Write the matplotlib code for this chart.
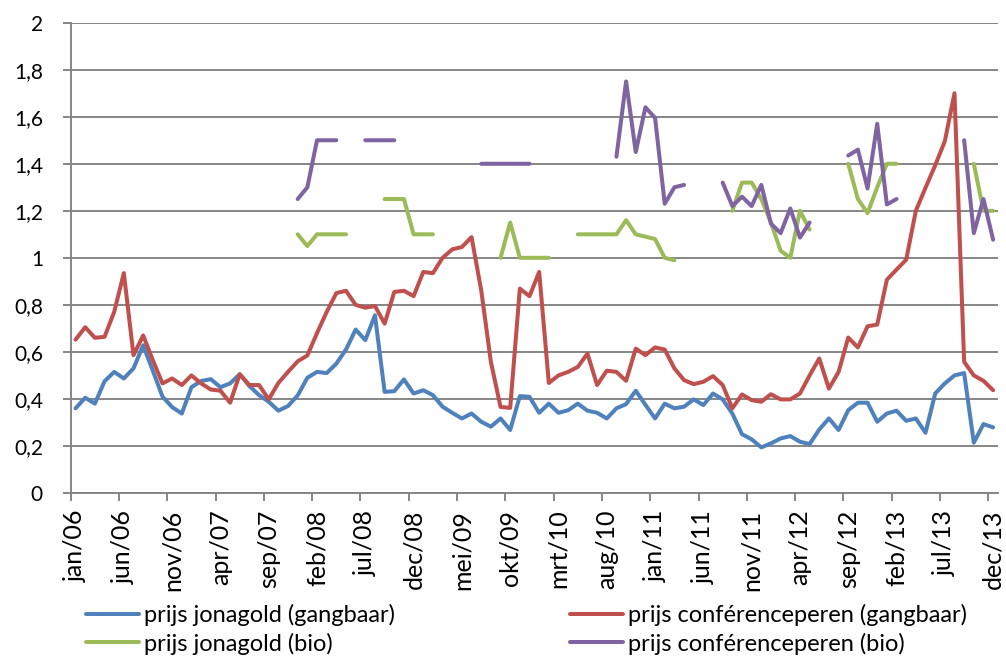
import numpy as np
import matplotlib
matplotlib.use('Agg')
import matplotlib.pyplot as plt

plt.rcParams['font.family'] = ['Lato', 'DejaVu Sans']

nan = np.nan

# monthly prices jan/06 .. dec/13
jonagold = [
    0.36, 0.405, 0.38, 0.475, 0.515, 0.487, 0.53, 0.628, 0.52, 0.41, 0.365, 0.338,
    0.45, 0.476, 0.484, 0.45, 0.466, 0.505, 0.455, 0.416, 0.388, 0.35, 0.37, 0.415,
    0.49, 0.515, 0.51, 0.55, 0.61, 0.695, 0.65, 0.756, 0.43, 0.433, 0.483, 0.423,
    0.437, 0.416, 0.367, 0.341, 0.317, 0.338, 0.303, 0.282, 0.317, 0.268, 0.412, 0.409,
    0.341, 0.38, 0.341, 0.352, 0.38, 0.35, 0.341, 0.317, 0.36, 0.378, 0.435, 0.375,
    0.317, 0.38, 0.36, 0.367, 0.398, 0.374, 0.423, 0.398, 0.338, 0.25, 0.228, 0.194,
    0.211, 0.232, 0.242, 0.218, 0.208, 0.27, 0.317, 0.268, 0.352, 0.384, 0.384, 0.303,
    0.338, 0.35, 0.307, 0.317, 0.256, 0.423, 0.466, 0.50, 0.51, 0.214, 0.293, 0.279,
]
conference = [
    0.652, 0.705, 0.66, 0.664, 0.77, 0.935, 0.586, 0.67, 0.565, 0.466, 0.487, 0.459,
    0.50, 0.466, 0.44, 0.435, 0.384, 0.505, 0.459, 0.459, 0.398, 0.468, 0.515, 0.56,
    0.585, 0.68, 0.77, 0.85, 0.86, 0.80, 0.788, 0.795, 0.72, 0.855, 0.86, 0.837,
    0.94, 0.935, 1.0, 1.036, 1.046, 1.088, 0.862, 0.558, 0.366, 0.362, 0.869, 0.837,
    0.94, 0.468, 0.50, 0.515, 0.536, 0.593, 0.459, 0.52, 0.515, 0.477, 0.614, 0.586,
    0.619, 0.61, 0.53, 0.48, 0.463, 0.473, 0.497, 0.459, 0.36, 0.419, 0.395, 0.388,
    0.42, 0.398, 0.398, 0.423, 0.50, 0.572, 0.444, 0.515, 0.661, 0.619, 0.709, 0.716,
    0.907, 0.95, 0.992, 1.20, 1.298, 1.393, 1.496, 1.70, 0.558, 0.50, 0.477, 0.437,
]
jonagold_bio = [
    nan, nan, nan, nan, nan, nan, nan, nan, nan, nan, nan, nan,
    nan, nan, nan, nan, nan, nan, nan, nan, nan, nan, nan, 1.10,
    1.05, 1.10, 1.10, 1.10, 1.10, nan, nan, nan, 1.25, 1.25, 1.25, 1.10,
    1.10, 1.10, nan, nan, nan, nan, nan, nan, 1.0, 1.15, 1.0, 1.0,
    1.0, 1.0, nan, nan, 1.10, 1.10, 1.10, 1.10, 1.10, 1.16, 1.10, 1.09,
    1.08, 1.0, 0.99, nan, nan, nan, nan, nan, 1.20, 1.32, 1.32, 1.25,
    1.15, 1.03, 1.0, 1.20, 1.12, nan, nan, nan, 1.40, 1.25, 1.19, 1.30,
    1.40, 1.40, nan, nan, nan, nan, nan, nan, nan, 1.40, 1.20, 1.20,
]
conference_bio = [
    nan, nan, nan, nan, nan, nan, nan, nan, nan, nan, nan, nan,
    nan, nan, nan, nan, nan, nan, nan, nan, nan, nan, nan, 1.25,
    1.30, 1.50, 1.50, 1.50, nan, nan, 1.50, 1.50, 1.50, 1.50, nan, nan,
    nan, nan, nan, nan, nan, nan, 1.40, 1.40, 1.40, 1.40, 1.40, 1.40,
    nan, nan, nan, nan, nan, nan, nan, nan, 1.43, 1.75, 1.45, 1.64,
    1.595, 1.23, 1.30, 1.31, nan, nan, nan, 1.32, 1.22, 1.26, 1.22, 1.31,
    1.145, 1.105, 1.21, 1.086, 1.15, nan, nan, nan, 1.435, 1.46, 1.295, 1.57,
    1.227, 1.25, nan, nan, nan, nan, nan, nan, 1.50, 1.105, 1.25, 1.077,
]

month_labels = ['jan/06', 'jun/06', 'nov/06', 'apr/07', 'sep/07', 'feb/08', 'jul/08',
                'dec/08', 'mei/09', 'okt/09', 'mrt/10', 'aug/10', 'jan/11', 'jun/11',
                'nov/11', 'apr/12', 'sep/12', 'feb/13', 'jul/13', 'dec/13']
y_labels = ['0', '0,2', '0,4', '0,6', '0,8', '1', '1,2', '1,4', '1,6', '1,8', '2']

grid_col = '#868686'

fig = plt.figure(figsize=(10.06, 6.59), dpi=100)
ax = fig.add_axes([0.0703, 0.2519, 0.9217, 0.7137])

x = np.arange(len(jonagold))
style = dict(lw=2.9, solid_capstyle='round', solid_joinstyle='round')
l1, = ax.plot(x, jonagold, color='#4F81BD', label='prijs jonagold (gangbaar)', **style)
l2, = ax.plot(x, conference, color='#C0504D', label='prijs conférenceperen (gangbaar)', **style)
l3, = ax.plot(x, np.array(jonagold_bio, dtype=float), color='#9BBB59', label='prijs jonagold (bio)', **style)
l4, = ax.plot(x, np.array(conference_bio, dtype=float), color='#8064A2', label='prijs conférenceperen (bio)', **style)

ax.set_xlim(-0.5, len(x) - 0.5)
ax.set_ylim(0, 2)
ax.set_axisbelow(True)

ax.set_yticks(np.linspace(0, 2, 11))
ax.set_yticklabels(y_labels, fontsize=15)
ax.yaxis.grid(True, color=grid_col, lw=1.4)
ax.tick_params(axis='y', length=6, width=1.4, color=grid_col, pad=14)

pos = np.arange(0, len(x), 5)
ax.set_xticks(pos)
ax.set_xticklabels(month_labels, rotation=90, fontsize=18)
ax.set_xticks(pos - 0.5, minor=True)
ax.tick_params(axis='x', which='major', length=0, pad=12)
ax.tick_params(axis='x', which='minor', length=6, width=1.4, color=grid_col)

for s in ['top', 'right']:
    ax.spines[s].set_visible(False)
for s in ['left', 'bottom']:
    ax.spines[s].set_color(grid_col)
    ax.spines[s].set_linewidth(1.4)

leg_kw = dict(loc='upper left', frameon=False, fontsize=17, handlelength=2.25,
              handletextpad=0.2, borderpad=0, borderaxespad=0, labelspacing=0.27)
fig.legend([l1, l3], [l1.get_label(), l3.get_label()],
           bbox_to_anchor=(86 / 1006, 1 - 604 / 659), **leg_kw)
fig.legend([l2, l4], [l2.get_label(), l4.get_label()],
           bbox_to_anchor=(570 / 1006, 1 - 604 / 659), **leg_kw)

plt.savefig('out.png', dpi=100)
